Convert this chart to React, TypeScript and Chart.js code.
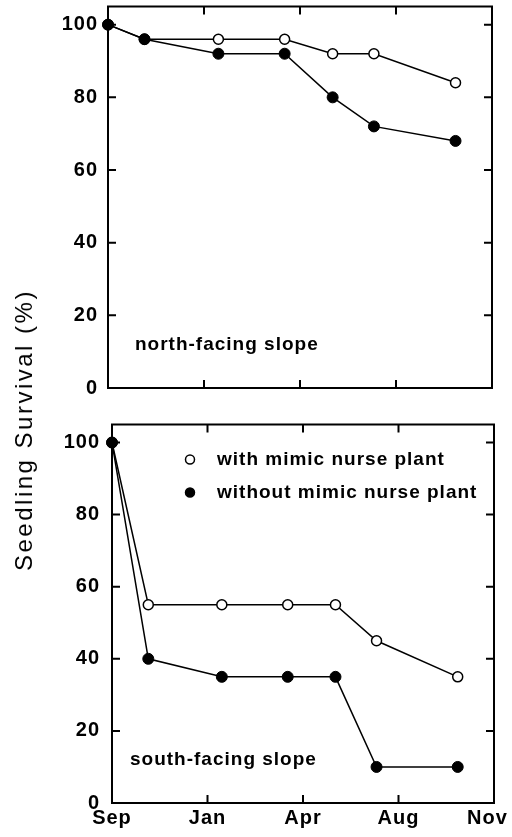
import React, { useEffect, useRef } from 'react';
import { Chart, registerables } from 'chart.js';
Chart.register(...registerables);

// ---- data ----
const tickLabels = ['Sep', 'Jan', 'Apr', 'Aug', 'Nov'];
const tickValues = [0, 1, 2, 3, 4];
const yTickValues = [0, 20, 40, 60, 80, 100];
const sampleTimes = [0, 0.38, 1.15, 1.84, 2.34, 2.77, 3.62];
const northWith = [100, 96, 96, 96, 92, 92, 84];
const northWithout = [100, 96, 92, 92, 80, 72, 68];
const southWith = [100, 55, 55, 55, 55, 45, 35];
const southWithout = [100, 40, 35, 35, 35, 10, 10];
const seriesNames = ['with mimic nurse plant', 'without mimic nurse plant'];
const panelLabels = ['north-facing slope', 'south-facing slope'];
const yTitle = 'Seedling Survival (%)';

const FONT = "'Liberation Sans', Arial, Helvetica, sans-serif";

type PanelOpts = {
  withVals: number[];
  withoutVals: number[];
  label: string;
  showXLabels: boolean;
  showLegend: boolean;
  areaLeft: number;
  areaRight: number;
  areaTop: number;
  areaBottom: number;
  canvasHeight: number;
  labelDx: number;
  yPad: number;
};

function makeChart(canvas: HTMLCanvasElement, o: PanelOpts) {
  const framePlugin = {
    id: 'frame',
    beforeDraw(chart: any) {
      chart.ctx.letterSpacing = '1px';
    },
    beforeDatasetsDraw(chart: any) {
      const { ctx, chartArea } = chart;
      const xs = chart.scales.x;
      const ys = chart.scales.y;
      ctx.save();
      ctx.strokeStyle = '#000';
      ctx.lineWidth = 2;
      ctx.strokeRect(chartArea.left, chartArea.top, chartArea.right - chartArea.left, chartArea.bottom - chartArea.top);
      ctx.beginPath();
      for (const v of yTickValues) {
        if (v === 0) continue;
        const y = ys.getPixelForValue(v);
        ctx.moveTo(chartArea.left, y);
        ctx.lineTo(chartArea.left + 8, y);
        ctx.moveTo(chartArea.right, y);
        ctx.lineTo(chartArea.right - 8, y);
      }
      for (const v of tickValues) {
        if (v === 0 || v === 4) continue;
        const x = xs.getPixelForValue(v);
        ctx.moveTo(x, chartArea.bottom);
        ctx.lineTo(x, chartArea.bottom - 8);
        ctx.moveTo(x, chartArea.top);
        ctx.lineTo(x, chartArea.top + 8);
      }
      ctx.stroke();
      ctx.restore();
    },
    afterDraw(chart: any) {
      const { ctx, chartArea } = chart;
      ctx.save();
      ctx.letterSpacing = '1px';
      ctx.font = `bold 19px ${FONT}`;
      ctx.fillStyle = '#000';
      ctx.textBaseline = 'middle';
      ctx.textAlign = 'left';
      ctx.fillText(o.label, chartArea.left + o.labelDx, chartArea.bottom - 43);
      if (o.showLegend) {
        const ds = chart.data.datasets;
        const items = [ds[1], ds[0]];
        items.forEach((d: any, i: number) => {
          const cy = chartArea.top + 35 + i * 33;
          const cx = chartArea.left + 78;
          ctx.beginPath();
          ctx.arc(cx, cy, 4.5, 0, Math.PI * 2);
          ctx.fillStyle = d.pointBackgroundColor;
          ctx.fill();
          ctx.lineWidth = 1.5;
          ctx.strokeStyle = '#000';
          ctx.stroke();
          ctx.fillStyle = '#000';
          ctx.fillText(d.label, chartArea.left + 105, cy);
        });
      }
      ctx.restore();
    },
  };

  return new Chart(canvas, {
    type: 'line',
    data: {
      datasets: [
        {
          label: seriesNames[1],
          data: sampleTimes.map((x, i) => ({ x, y: o.withoutVals[i] })),
          borderColor: '#000',
          borderWidth: 1.5,
          pointRadius: 5.5,
          pointBackgroundColor: '#000',
          pointBorderColor: '#000',
          pointBorderWidth: 1,
          order: 0,
          clip: false,
        } as any,
        {
          label: seriesNames[0],
          data: sampleTimes.map((x, i) => ({ x, y: o.withVals[i] })),
          borderColor: '#000',
          borderWidth: 1.5,
          pointRadius: 5,
          pointBackgroundColor: '#fff',
          pointBorderColor: '#000',
          pointBorderWidth: 1.5,
          order: 1,
          clip: false,
        } as any,
      ],
    },
    options: {
      animation: false,
      responsive: false,
      devicePixelRatio: 1,
      layout: {
        padding: {
          left: 0,
          top: o.areaTop,
          right: 512 - o.areaRight,
          bottom: o.showXLabels ? 0 : o.canvasHeight - o.areaBottom,
        },
      },
      plugins: { legend: { display: false }, tooltip: { enabled: false } },
      scales: {
        x: {
          type: 'linear',
          min: 0,
          max: 4,
          grid: { display: false, drawTicks: false },
          border: { display: false },
          ticks: {
            display: o.showXLabels,
            padding: 3,
            color: '#000',
            font: { family: FONT, size: 20, weight: 'bold' },
            callback: (v: any) => {
              const i = tickValues.indexOf(Number(v));
              const t = tickLabels[i] ?? '';
              return i === tickValues.length - 1 ? t + '  ' : t;
            },
            maxRotation: 0,
            autoSkip: false,
          },
          afterBuildTicks: (s: any) => {
            s.ticks = tickValues.map((v) => ({ value: v }));
          },
          afterFit: (s: any) => {
            s.height = o.showXLabels ? o.canvasHeight - o.areaBottom : 0;
            s.paddingLeft = 0;
            s.paddingRight = 0;
          },
        },
        y: {
          type: 'linear',
          min: 0,
          max: 105,
          grid: { display: false, drawTicks: false },
          border: { display: false },
          ticks: {
            padding: o.yPad,
            color: '#000',
            font: { family: FONT, size: 20, weight: 'bold' },
          },
          afterBuildTicks: (s: any) => {
            s.ticks = yTickValues.map((v) => ({ value: v }));
          },
          afterFit: (s: any) => {
            s.width = o.areaLeft;
            s.paddingTop = 0;
            s.paddingBottom = 0;
          },
        },
      },
    } as any,
    plugins: [framePlugin],
  });
}

export default function App() {
  const topRef = useRef<HTMLCanvasElement>(null);
  const botRef = useRef<HTMLCanvasElement>(null);

  useEffect(() => {
    const c1 = makeChart(topRef.current!, {
      withVals: northWith,
      withoutVals: northWithout,
      label: panelLabels[0],
      showXLabels: false,
      showLegend: false,
      areaLeft: 108,
      areaRight: 492,
      areaTop: 6,
      areaBottom: 388,
      canvasHeight: 418,
      labelDx: 27,
      yPad: 10,
    });
    const c2 = makeChart(botRef.current!, {
      withVals: southWith,
      withoutVals: southWithout,
      label: panelLabels[1],
      showXLabels: true,
      showLegend: true,
      areaLeft: 112,
      areaRight: 494,
      areaTop: 6,
      areaBottom: 385,
      canvasHeight: 419,
      labelDx: 18,
      yPad: 12,
    });
    return () => {
      c1.destroy();
      c2.destroy();
    };
  }, []);

  return (
    <div style={{ position: 'absolute', left: 0, top: 0, width: 512, height: 837, background: '#fff', overflow: 'hidden' }}>
      <canvas ref={topRef} width={512} height={418} style={{ position: 'absolute', left: 0, top: 0, display: 'block' }} />
      <canvas ref={botRef} width={512} height={419} style={{ position: 'absolute', left: 0, top: 418, display: 'block' }} />
      <div
        style={{
          position: 'absolute',
          left: 24,
          top: 430,
          transform: 'translate(-50%, -50%) rotate(-90deg)',
          whiteSpace: 'nowrap',
          fontFamily: FONT,
          fontSize: 24,
          lineHeight: 1,
          letterSpacing: '2.5px',
          color: '#000',
        }}
      >
        {yTitle}
      </div>
    </div>
  );
}
